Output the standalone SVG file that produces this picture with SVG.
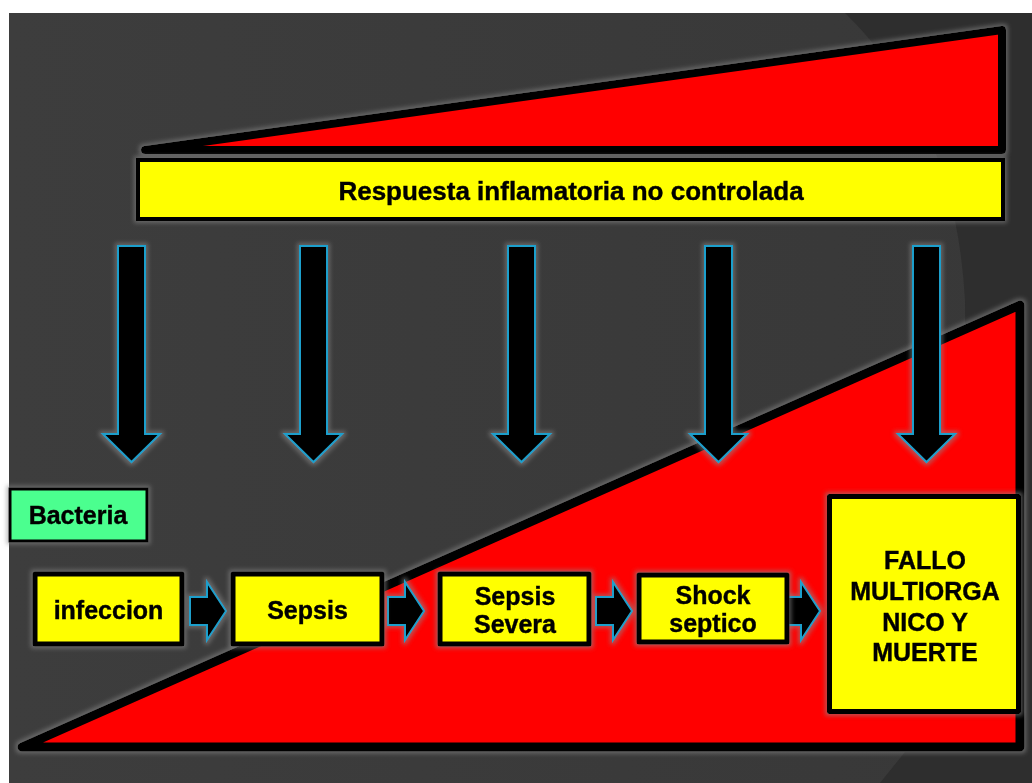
<svg xmlns="http://www.w3.org/2000/svg" width="1032" height="783" viewBox="0 0 1032 783">
<style>
.t{font-family:"Liberation Sans",Arial,sans-serif;font-weight:bold;font-size:25px;fill:#000;stroke:#000;stroke-width:0.4;text-anchor:middle}
.box{fill:#ffff00;stroke:#000;stroke-width:5;stroke-linejoin:round}
.tri{fill:#ff0000;stroke:#000;stroke-linejoin:round}
.arr{fill:#000;stroke:#1e9fcc;stroke-width:2;stroke-linejoin:miter}
</style>
<defs>
<filter id="glow" x="-20%" y="-20%" width="140%" height="140%">
<feMorphology in="SourceAlpha" operator="dilate" radius="2" result="d"/>
<feGaussianBlur in="d" stdDeviation="2" result="b"/>
<feFlood flood-color="#8a8a8a" flood-opacity="0.55"/>
<feComposite in2="b" operator="in" result="g"/>
<feMerge><feMergeNode in="g"/><feMergeNode in="SourceGraphic"/></feMerge>
</filter>
<linearGradient id="bg" x1="0" y1="0" x2="1" y2="0">
<stop offset="0" stop-color="#3d3d3d"/>
<stop offset="1" stop-color="#383838"/>
</linearGradient>
</defs>
<rect width="1032" height="783" fill="#ffffff"/>
<g id="background">
<rect x="9" y="13" width="1023" height="770" fill="url(#bg)"/>
<path d="M845 13 Q955 120 965 300 L968 783 L1032 783 L1032 13 Z" fill="#2e2e2e"/>
<path d="M880 783 L905 752 L1032 752 L1032 783 Z" fill="#2e2e2e"/>
<polygon class="tri" stroke-width="8" filter="url(#glow)" points="145,150 1002,30 1002,150"/>
<polygon class="tri" stroke-width="9" filter="url(#glow)" points="22,747 1020,305 1020,747"/>
</g>
<g id="respuesta" filter="url(#glow)">
<rect x="138" y="160" width="865" height="59" fill="#ffff00" stroke="#000" stroke-width="4"/>
<text class="t" x="571" y="200" style="font-size:26px">Respuesta inflamatoria no controlada</text>
</g>
<g id="connectors" filter="url(#glow)">
<polygon class="arr" points="118,246 145,246 145,434 160,434 131.5,462 103,434 118,434"/>
<polygon class="arr" points="300,246 327,246 327,434 342,434 313.5,462 285,434 300,434"/>
<polygon class="arr" points="508,246 535,246 535,434 550,434 521.5,462 493,434 508,434"/>
<polygon class="arr" points="705,246 732,246 732,434 747,434 718.5,462 690,434 705,434"/>
<polygon class="arr" points="913,246 940,246 940,434 955,434 926.5,462 898,434 913,434"/>
<polygon class="arr" points="190,597 207,597 207,582 226,611 207,640 207,625 190,625"/>
<polygon class="arr" points="388,597 405,597 405,582 424,611 405,640 405,625 388,625"/>
<polygon class="arr" points="596,597 613,597 613,582 632,611 613,640 613,625 596,625"/>
<polygon class="arr" points="784,597 801,597 801,582 820,611 801,640 801,625 784,625"/>
</g>
<g id="bacteria" filter="url(#glow)">
<rect x="10" y="489" width="137" height="52" fill="#4cff8f" stroke="#000" stroke-width="3"/>
<text class="t" x="78" y="524">Bacteria</text>
</g>
<g id="infeccion" filter="url(#glow)">
<rect class="box" x="35" y="574" width="147" height="70"/>
<text class="t" x="108.5" y="619">infeccion</text>
</g>
<g id="sepsis" filter="url(#glow)">
<rect class="box" x="233" y="574" width="149" height="70"/>
<text class="t" x="307.5" y="619">Sepsis</text>
</g>
<g id="sepsis-severa" filter="url(#glow)">
<rect class="box" x="440" y="574" width="149" height="70"/>
<text class="t" x="515" y="605">Sepsis</text>
<text class="t" x="515" y="633">Severa</text>
</g>
<g id="shock-septico" filter="url(#glow)">
<rect class="box" x="639" y="575" width="148" height="67"/>
<text class="t" x="713" y="604">Shock</text>
<text class="t" x="713" y="632">septico</text>
</g>
<g id="fallo" filter="url(#glow)">
<rect class="box" x="829.5" y="496.5" width="189" height="215"/>
<text class="t" x="925" y="569">FALLO</text>
<text class="t" x="925" y="600">MULTIORGA</text>
<text class="t" x="925" y="631">NICO Y</text>
<text class="t" x="925" y="661">MUERTE</text>
</g>
</svg>
